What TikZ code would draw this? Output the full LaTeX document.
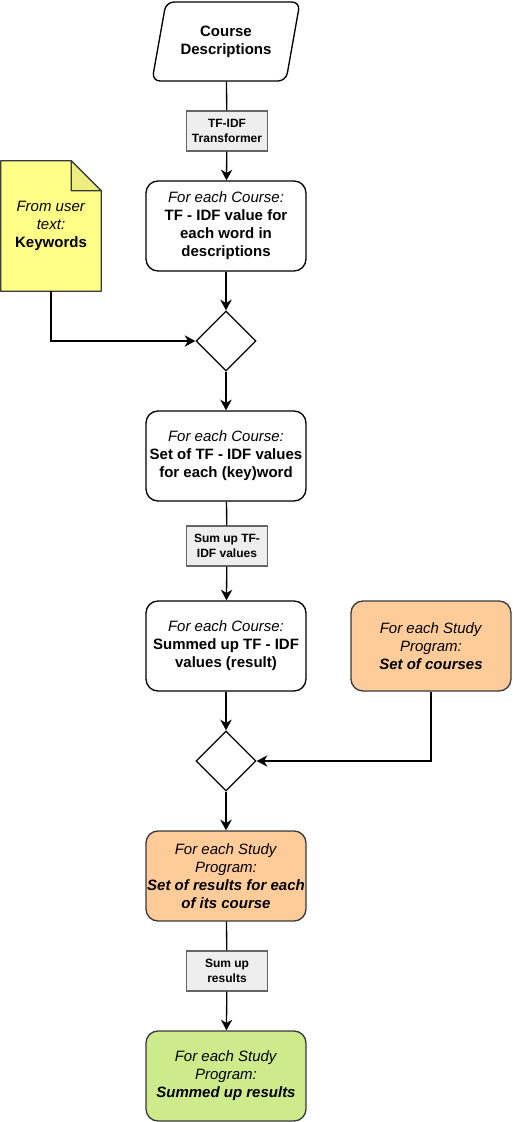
\documentclass[tikz,border=0pt]{standalone}
\usepackage{fontspec}
\setmainfont{Liberation Sans}
\usepackage{tikz}
\usetikzlibrary{shapes, arrows, positioning, arrows.meta, backgrounds}
\definecolor{naranja}{HTML}{FFCC99}
\definecolor{verde}{HTML}{CDEB8B}
\definecolor{amarillo}{HTML}{FFFF88}
\definecolor{pliegue}{HTML}{EEEE80}
\definecolor{borde}{HTML}{36393D}
\definecolor{gris}{HTML}{666666}
\definecolor{grisclaro}{HTML}{EEEEEE}
\tikzset{
  texto/.style={align=center, inner sep=0pt, font=\fontsize{11.25}{13.5}\selectfont},
  caja/.style={texto, draw, line width=1pt, rounded corners=9pt, minimum width=120pt, minimum height=67.5pt},
  programa/.style={caja, draw=borde, fill=naranja},
  resultado/.style={caja, draw=borde, fill=verde},
  proceso/.style={draw=gris, fill=grisclaro, line width=1pt, minimum width=60.75pt, minimum height=30pt,
    align=center, inner sep=0pt, font=\fontsize{9}{11.25}\selectfont\bfseries},
  decision/.style={diamond, draw, line width=1pt, minimum width=45pt, minimum height=45pt, inner sep=0pt},
  flecha/.style={line width=1pt, -{Stealth[length=8pt,width=8.5pt,inset=2.5pt]}},
  linea/.style={line width=1pt}
}
\begin{document}
\begin{tikzpicture}[x=0.75pt, y=-0.75pt]
    \useasboundingbox (0,0) rectangle (512,1122);
    % Datos de entrada
    \node[texto, trapezium, trapezium left angle=66, trapezium right angle=114, trapezium stretches body,
      draw, line width=1pt, rounded corners=6pt, minimum width=111pt, minimum height=59.25pt,
      font=\fontsize{11.25}{13.5}\selectfont\bfseries] (desc) at (226,41.5) {Course\\Descriptions};
    \node[proceso] (tfidf) at (227,131) {TF-IDF\\Transformer};
    \node[caja] (valores) at (226,226) {\textit{For each Course:}\\\textbf{TF - IDF value for}\\\textbf{each word in}\\\textbf{descriptions}};
    % Nota de palabras clave
    \node[texto, minimum width=75pt, minimum height=97.5pt] (kw) at (51,226) {\textit{From user}\\\textit{text:}\\\textbf{Keywords}};
    \begin{pgfonlayer}{background}
      \fill[amarillo] (kw.north west) -- ([xshift=-22.5pt]kw.north east) -- ([yshift=-22.5pt]kw.north east)
        -- (kw.south east) -- (kw.south west) -- cycle;
    \end{pgfonlayer}
    \draw[borde, line width=1pt, line join=round] (kw.north west) -- ([xshift=-22.5pt]kw.north east)
      -- ([yshift=-22.5pt]kw.north east) -- (kw.south east) -- (kw.south west) -- cycle;
    \draw[borde, fill=pliegue, line width=1pt, line join=round] ([xshift=-22.5pt]kw.north east)
      -- ([xshift=-22.5pt,yshift=-22.5pt]kw.north east) -- ([yshift=-22.5pt]kw.north east) -- cycle;
    % Cursos
    \node[decision] (dec1) at (226,341) {};
    \node[caja] (conjunto) at (226,456) {\textit{For each Course:}\\\textbf{Set of TF - IDF values}\\\textbf{for each (key)word}};
    \node[proceso] (suma) at (227,546) {Sum up TF-\\IDF values};
    \node[caja] (sumado) at (226,646) {\textit{For each Course:}\\\textbf{Summed up TF - IDF}\\\textbf{values (result)}};
    \node[programa] (cursos) at (431,646) {\textit{For each Study}\\\textit{Program:}\\\textbf{\textit{Set of courses}}};
    % Programas de estudio
    \node[decision] (dec2) at (226,761) {};
    \node[programa] (resultados) at (226,876) {\textit{For each Study}\\\textit{Program:}\\\textbf{\textit{Set of results for each}}\\\textbf{\textit{of its course}}};
    \node[proceso] (sumares) at (227,971) {Sum up\\results};
    \node[resultado] (final) at (226,1076) {\textit{For each Study}\\\textit{Program:}\\\textbf{\textit{Summed up results}}};
    % Conexiones
    \draw[linea] (desc) -- (tfidf);
    \draw[flecha] (tfidf) -- (valores);
    \draw[flecha] (valores) -- (dec1);
    \draw[flecha] (kw.south) |- (dec1.west);
    \draw[flecha] (dec1) -- (conjunto);
    \draw[linea] (conjunto) -- (suma);
    \draw[flecha] (suma) -- (sumado);
    \draw[flecha] (sumado) -- (dec2);
    \draw[flecha] (cursos.south) |- (dec2.east);
    \draw[flecha] (dec2) -- (resultados);
    \draw[linea] (resultados) -- (sumares);
    \draw[flecha] (sumares) -- (final);
\end{tikzpicture}
\end{document}
